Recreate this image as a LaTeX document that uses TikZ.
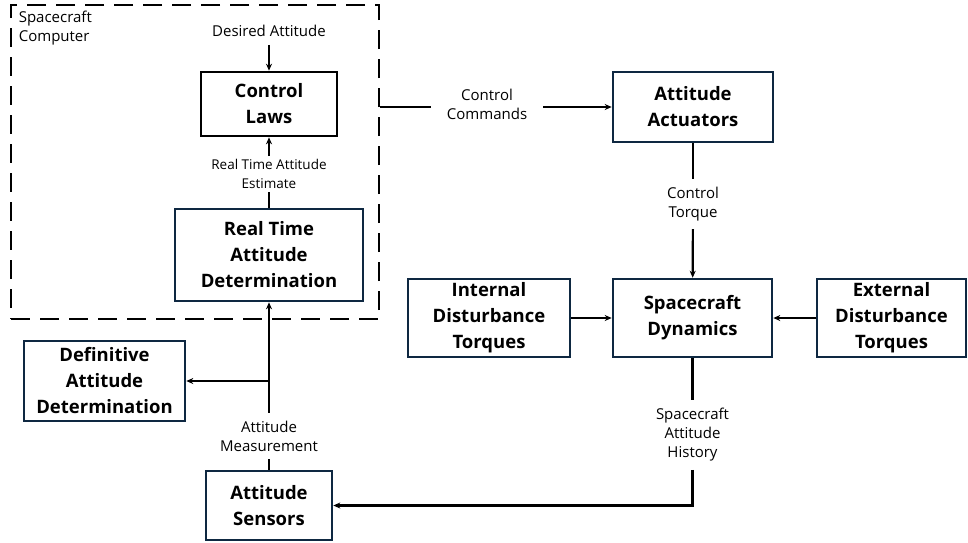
\documentclass[tikz,border=0pt]{standalone}
\usepackage{fontspec}
\setmainfont{Open Sans}
\usetikzlibrary{arrows.meta}
\definecolor{boxnavy}{HTML}{0E2841}

\begin{document}
\begin{tikzpicture}[x=1pt,y=-1pt,
  block/.style={draw=boxnavy,line width=2.6pt,align=center,inner sep=0pt,
    font=\fontsize{18.5}{26}\selectfont\bfseries},
  lbl/.style={align=center,inner sep=8pt,font=\fontsize{15}{19}\selectfont},
  wire/.style={line width=2.2pt},
  feed/.style={wire,-{Stealth[length=7pt,width=6pt]}}]
\useasboundingbox (0,0) rectangle (968,542);

% spacecraft computer
\node[draw,line width=2.8pt,dash pattern=on 19pt off 10pt,
  minimum width=368pt,minimum height=314pt] (computer) at (195,162) {};
\node[lbl,align=left,anchor=north west,inner sep=0pt] (complbl)
  at ([shift={(9,7)}]computer.north west) {Spacecraft\\Computer};
\node[lbl] (desired) at (269,31) {Desired Attitude};
\node[block,draw=black,minimum width=136pt,minimum height=64pt] (laws) at (269,104) {Control\\Laws};
\node[lbl,inner sep=3pt,font=\fontsize{13.5}{19}\selectfont] (estlbl) at (269,174) {Real Time Attitude\\Estimate};
\node[block,minimum width=188pt,minimum height=92pt] (rtad) at (269,255) {Real Time\\Attitude\\Determination};

% other blocks
\node[block,minimum width=161pt,minimum height=80pt] (defad) at (104.5,381) {Definitive\\Attitude\\Determination};
\node[block,minimum width=126pt,minimum height=69pt] (sensors) at (269,505.5) {Attitude\\Sensors};
\node[block,minimum width=160pt,minimum height=70pt] (actuators) at (693,107) {Attitude\\Actuators};
\node[block,minimum width=159pt,minimum height=78pt] (dynamics) at (692.5,318) {Spacecraft\\Dynamics};
\node[block,minimum width=162pt,minimum height=78pt] (internal) at (489,318) {Internal\\Disturbance\\Torques};
\node[block,minimum width=149pt,minimum height=78pt] (external) at (891.5,318) {External\\Disturbance\\Torques};

% labels on the wires
\node[lbl,inner xsep=16pt] (cmdlbl) at (487,104) {Control\\Commands};
\node[lbl] (torquelbl) at (693,204) {Control\\Torque};
\node[lbl] (histlbl) at (692.5,435) {Spacecraft\\Attitude\\History};
\node[lbl] (measlbl) at (269,436) {Attitude\\Measurement};
\coordinate (split) at (rtad.south |- defad.east);

% connectors
\draw[feed] (desired) -- (laws);
\draw[wire] (rtad) -- (estlbl);
\draw[feed] (estlbl) -- (laws);
\draw[wire] (computer.east |- actuators) -- (cmdlbl.west |- actuators);
\draw[feed] (cmdlbl.east |- actuators) -- (actuators);
\draw[wire] (actuators) -- (torquelbl);
\draw[feed] (torquelbl) -- (dynamics);
\draw[feed] (internal) -- (dynamics);
\draw[feed] (external) -- (dynamics);
\draw[wire] (dynamics) -- (histlbl);
\draw[feed] (histlbl) |- (sensors);
\draw[wire] (sensors) -- (measlbl);
\draw[feed] (measlbl) -- (rtad);
\draw[feed] (split) -- (defad);
\end{tikzpicture}
\end{document}
